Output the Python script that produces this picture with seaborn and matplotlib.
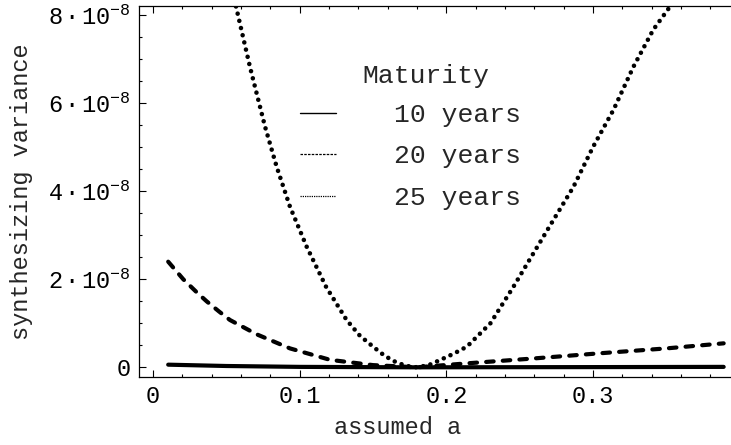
import matplotlib
matplotlib.use("Agg")
import matplotlib.pyplot as plt
from matplotlib.lines import Line2D
from matplotlib.ticker import MultipleLocator, FuncFormatter
import numpy as np
import pandas as pd
import seaborn as sns

# ---- data (y in units of 1e-8) ----
x_10 = [0.0104, 0.05, 0.10, 0.18, 0.25, 0.30, 0.389]
y_10 = [0.06, 0.03, 0.01, 0.0, 0.003, 0.005, 0.01]

x_20 = [0.0104, 0.0207, 0.030, 0.0366, 0.045, 0.0525, 0.0707, 0.0934, 0.1207,
        0.150, 0.180, 0.214, 0.259, 0.305, 0.350, 0.389]
y_20 = [2.40, 2.00, 1.70, 1.50, 1.27, 1.075, 0.75, 0.43, 0.17,
        0.05, 0.0, 0.09, 0.20, 0.32, 0.43, 0.545]

x_25 = [0.0566, 0.0661, 0.0764, 0.0843, 0.0934, 0.1048, 0.118, 0.132, 0.141,
        0.150, 0.158, 0.166, 0.173, 0.180, 0.188, 0.196, 0.205, 0.214, 0.230,
        0.2457, 0.2593, 0.273, 0.2866, 0.300, 0.3139, 0.3275, 0.341, 0.3525]
y_25 = [8.2, 6.83, 5.47, 4.56, 3.65, 2.74, 1.83, 1.075, 0.72,
        0.47, 0.26, 0.11, 0.03, 0.0, 0.05, 0.17, 0.31, 0.47, 1.0,
        1.83, 2.59, 3.35, 4.1, 5.01, 5.85, 6.83, 7.67, 8.2]

series_labels = ["10 years", "20 years", "25 years"]
legend_title = "Maturity"
x_ticks = [0, 0.1, 0.2, 0.3]
y_ticks = [0, 2e-8, 4e-8, 6e-8, 8e-8]

sns.set_style("ticks")
plt.rcParams["font.family"] = ["Liberation Mono", "DejaVu Sans"]
plt.rcParams["mathtext.fontset"] = "custom"
plt.rcParams["mathtext.rm"] = "Liberation Mono"
plt.rcParams["mathtext.it"] = "Liberation Mono"

fig = plt.figure(figsize=(7.31, 4.45), dpi=100)
ax = fig.add_axes([139/731, 1 - 377/445, 1 - 139/731, (377 - 6)/445])

scale = 1e-8
sns.lineplot(x=x_10, y=np.array(y_10) * scale, ax=ax, color="black",
             lw=3.0, solid_capstyle="round")
sns.lineplot(x=x_20, y=np.array(y_20) * scale, ax=ax, color="black",
             lw=3.0, linestyle=(0, (1.8, 2.2)), dash_capstyle="round")
sns.lineplot(x=x_25, y=np.array(y_25) * scale, ax=ax, color="black",
             lw=3.3, linestyle=(0, (0.01, 1.6)), dash_capstyle="round")

ax.set_xlim(-0.0095, 0.394)
ax.set_ylim(-0.22e-8, 8.21e-8)

ax.set_xticks(x_ticks)
ax.xaxis.set_minor_locator(MultipleLocator(0.02))
ax.set_yticks(y_ticks)
ax.yaxis.set_minor_locator(MultipleLocator(0.5e-8))

def xfmt(v, pos):
    return "0" if abs(v) < 1e-12 else f"{v:g}"

def yfmt(v, pos):
    if abs(v) < 1e-20:
        return "0"
    k = v / 1e-8
    return "$\\mathregular{" + f"{k:g}" + "\\,\u00b7\\,10^{-8}}$"

ax.xaxis.set_major_formatter(FuncFormatter(xfmt))
ax.yaxis.set_major_formatter(FuncFormatter(yfmt))

ax.tick_params(which="both", direction="in", top=True, right=False,
               colors="black", labelsize=17, width=0.8)
ax.tick_params(which="major", length=5, pad=6)
ax.tick_params(which="minor", length=2.5)
for s in ["left", "bottom", "top"]:
    ax.spines[s].set_visible(True)
    ax.spines[s].set_linewidth(0.9)
    ax.spines[s].set_color("black")
ax.spines["right"].set_visible(False)

ax.set_xlabel("assumed a", fontsize=17)
ax.set_ylabel("synthesizing variance", fontsize=17)
ax.xaxis.set_label_coords((398 - 139) / 592, -(428 - 377) / 371)
ax.yaxis.set_label_coords(-(139 - 22) / 592, 0.5)
ax.xaxis.label.set_va("center")
ax.yaxis.label.set_va("center")

handles = [
    Line2D([], [], color="black", lw=1.0, linestyle="-"),
    Line2D([], [], color="black", lw=0.9, linestyle=(0, (2, 1))),
    Line2D([], [], color="black", lw=0.9, linestyle=(0, (1, 0.8))),
]
ax.legend(handles, series_labels, loc="upper left",
          bbox_to_anchor=((300 - 139) / 592, (377 - 103) / 371),
          frameon=False, fontsize=19, handlelength=1.35, handletextpad=2.2,
          labelspacing=0.66, borderpad=0, borderaxespad=0)
ax.text((426 - 139) / 592, (377 - 76) / 371, legend_title, transform=ax.transAxes,
        ha="center", va="center", fontsize=19)

fig.savefig("out.png", dpi=100)
